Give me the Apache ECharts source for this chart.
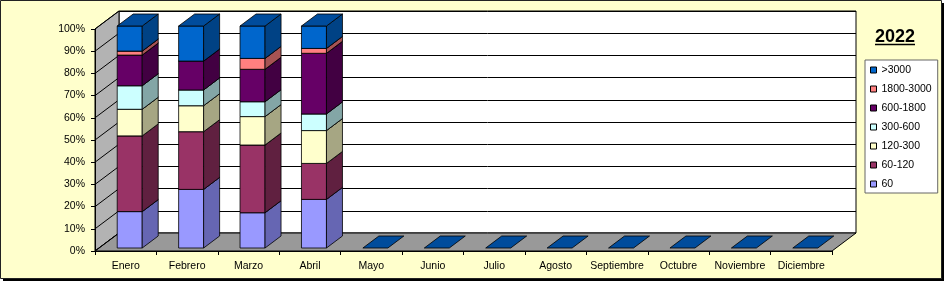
<!DOCTYPE html>
<html>
<head>
<meta charset="utf-8">
<script src="https://cdn.jsdelivr.net/npm/echarts@6/dist/echarts.min.js"></script>
<style>
html,body{margin:0;padding:0;background:#fff;}
#c{width:945px;height:283px;}
</style>
</head>
<body>
<div id="c"></div>
<script>
// ---- data (percent of month total) ----
const months = ['Enero','Febrero','Marzo','Abril','Mayo','Junio','Julio','Agosto','Septiembre','Octubre','Noviembre','Diciembre'];
const s60        = [16.4, 26.4, 15.9, 21.9, 0, 0, 0, 0, 0, 0, 0, 0];
const s60_120    = [34.1, 26.0, 30.5, 16.2, 0, 0, 0, 0, 0, 0, 0, 0];
const s120_300   = [12.0, 11.7, 12.8, 14.8, 0, 0, 0, 0, 0, 0, 0, 0];
const s300_600   = [10.6,  7.1,  6.7,  7.5, 0, 0, 0, 0, 0, 0, 0, 0];
const s600_1800  = [13.8, 13.0, 14.6, 27.3, 0, 0, 0, 0, 0, 0, 0, 0];
const s1800_3000 = [ 1.8,  0.0,  4.9,  2.2, 0, 0, 0, 0, 0, 0, 0, 0];
const s3000      = [11.3, 15.8, 14.6, 10.1, 0, 0, 0, 0, 0, 0, 0, 0];
const seriesNames = ['60','60-120','120-300','300-600','600-1800','1800-3000','>3000'];
const seriesValues = [s60, s60_120, s120_300, s300_600, s600_1800, s1800_3000, s3000];
const yMin = 0, yMax = 100, yStep = 10;
const title = '2022';

// ---- styles ----
const FONT = '"Liberation Sans", Arial, sans-serif';
const colors = [
  {front:'#9999FF', side:'#6666B3', top:'#7A7ACC'},
  {front:'#993366', side:'#602040', top:'#7A2952'},
  {front:'#FFFFCC', side:'#A6A683', top:'#CCCCA3'},
  {front:'#CCFFFF', side:'#83A6A6', top:'#A3CCCC'},
  {front:'#660066', side:'#420042', top:'#520052'},
  {front:'#FF8080', side:'#A65353', top:'#CC6666'},
  {front:'#0066CC', side:'#004285', top:'#004C9C'}
];
const DEPTH = [24, -18];
const G = {left:95, top:29, width:737, height:222};

// build 100%-stacked segments
const totals = months.map((m, i) => seriesValues.reduce((a, s) => a + s[i], 0));
const cum = months.map(() => 0);
const segData = seriesValues.map(vals => vals.map((v, i) => {
  const t = totals[i];
  const p = t > 0 ? v / t * 100 : 0;
  const start = cum[i];
  cum[i] += p;
  return [i, start, cum[i], t > 0 ? 0 : 1];
}));

function barRender(k) {
  return function (params, api) {
    const i = api.value(0), v0 = api.value(1), v1 = api.value(2), empty = api.value(3);
    const last = k === seriesNames.length - 1;
    if (!(v1 > v0) && !(last && empty)) return null;
    const band = api.size([1, 0])[0];
    const b = api.coord([i, v0]);
    const t = api.coord([i, v1]);
    const bw = band * 0.407;
    const ox = DEPTH[0] / 6, oy = DEPTH[1] / 6;
    const dx = DEPTH[0] * 2 / 3, dy = DEPTH[1] * 2 / 3;
    const x0 = b[0] - bw / 2 + ox, x1 = x0 + bw;
    const yb = b[1] + oy, yt = t[1] + oy;
    const c = colors[k];
    const st = {stroke:'#000', lineWidth:0.8};
    const ch = [];
    if (v1 > v0) {
      ch.push({type:'polygon', shape:{points:[[x0,yb],[x1,yb],[x1,yt],[x0,yt]]}, style:Object.assign({fill:c.front}, st)});
      ch.push({type:'polygon', shape:{points:[[x1,yb],[x1+dx,yb+dy],[x1+dx,yt+dy],[x1,yt]]}, style:Object.assign({fill:c.side}, st)});
    }
    ch.push({type:'polygon', shape:{points:[[x0,yt],[x1,yt],[x1+dx,yt+dy],[x0+dx,yt+dy]]}, style:Object.assign({fill:c.top}, st)});
    return {type:'group', children:ch};
  };
}

function wallRender(params, api) {
  const band = api.size([1, 0])[0];
  const xl = api.coord([0, 0])[0] - band / 2;
  const xr = api.coord([months.length - 1, 0])[0] + band / 2;
  const y0 = api.coord([0, yMin])[1];
  const y1 = api.coord([0, yMax])[1];
  const dx = DEPTH[0], dy = DEPTH[1];
  const ch = [];
  ch.push({type:'polygon', shape:{points:[[xl,y0],[xl,y1],[xl+dx,y1+dy],[xl+dx,y0+dy]]}, style:{fill:'#B3B3B3', stroke:'#000', lineWidth:1}});
  ch.push({type:'polygon', shape:{points:[[xl,y0],[xr,y0],[xr+dx,y0+dy],[xl+dx,y0+dy]]}, style:{fill:'#999999', stroke:'#000', lineWidth:1}});
  for (let v = yMin; v <= yMax; v += yStep) {
    const y = api.coord([0, v])[1];
    ch.push({type:'line', shape:{x1:xl, y1:y, x2:xl+dx, y2:y+dy}, style:{stroke:'#000', lineWidth:1}});
  }
  return {type:'group', children:ch};
}

const series = [{
  type:'custom', name:'walls', xAxisIndex:0, yAxisIndex:0, z:1, silent:true,
  renderItem: wallRender, data:[[0]]
}];
seriesNames.forEach((n, k) => {
  series.push({
    type:'custom', name:n, xAxisIndex:0, yAxisIndex:0, z:2,
    itemStyle:{color:colors[k].front, borderColor:'#000'},
    renderItem: barRender(k), data: segData[k]
  });
});

const chart = echarts.init(document.getElementById('c'), null, {renderer:'canvas'});
chart.setOption({
  animation:false,
  backgroundColor:'transparent',
  textStyle:{fontFamily:FONT},
  graphic:[
    {type:'rect', z:-100, shape:{x:3, y:3, width:941, height:278}, style:{fill:'#000'}},
    {type:'rect', z:-99, shape:{x:0.5, y:0.5, width:941, height:278}, style:{fill:'#FFFFCC', stroke:'#222', lineWidth:1}},
    {type:'text', z:100, x:895, y:37, style:{text:title, fontFamily:FONT, fontSize:18, fontWeight:'bold', fill:'#000', textAlign:'center', textVerticalAlign:'middle'}},
    {type:'line', z:100, shape:{x1:875, y1:44.5, x2:915, y2:44.5}, style:{stroke:'#000', lineWidth:1.6}}
  ],
  legend:{
    orient:'vertical', left:865, top:60,
    padding:[4,6,3,5],
    backgroundColor:'#fff', borderColor:'#666', borderWidth:1,
    itemWidth:6, itemHeight:6, itemGap:7, itemTextGap:2,
    icon:'rect',
    textStyle:{fontFamily:FONT, fontSize:10.5, color:'#000', lineHeight:12},
    data: seriesNames.slice().reverse().map(n => ({name:n, itemStyle:{color:colors[seriesNames.indexOf(n)].front, borderColor:'#000', borderWidth:1}})),
    selectedMode:false
  },
  grid:[
    {left:G.left, top:G.top, width:G.width, height:G.height},
    {left:G.left + DEPTH[0], top:G.top + DEPTH[1], width:G.width, height:G.height,
     show:true, backgroundColor:'#fff', borderColor:'#000', borderWidth:1}
  ],
  xAxis:[
    {type:'category', gridIndex:0, data:months, z:5,
     axisLine:{lineStyle:{color:'#000', width:1}},
     axisTick:{show:true, length:4, lineStyle:{color:'#000'}},
     axisLabel:{interval:0, margin:10, fontSize:10.5, color:'#000', fontFamily:FONT},
     splitLine:{show:false}},
    {type:'value', gridIndex:1, min:0, max:1, show:false}
  ],
  yAxis:[
    {type:'value', gridIndex:0, min:yMin, max:yMax, interval:yStep, z:5,
     axisLine:{show:true, lineStyle:{color:'#000', width:1}},
     axisTick:{show:true, length:4, lineStyle:{color:'#000'}},
     axisLabel:{formatter:'{value}%', margin:10, fontSize:10.5, color:'#000', fontFamily:FONT},
     splitLine:{show:false}},
    {type:'value', gridIndex:1, min:yMin, max:yMax, interval:yStep,
     axisLine:{show:false}, axisTick:{show:false}, axisLabel:{show:false},
     splitLine:{show:true, lineStyle:{color:'#000', width:1}}}
  ],
  series: series
});
</script>
</body>
</html>
